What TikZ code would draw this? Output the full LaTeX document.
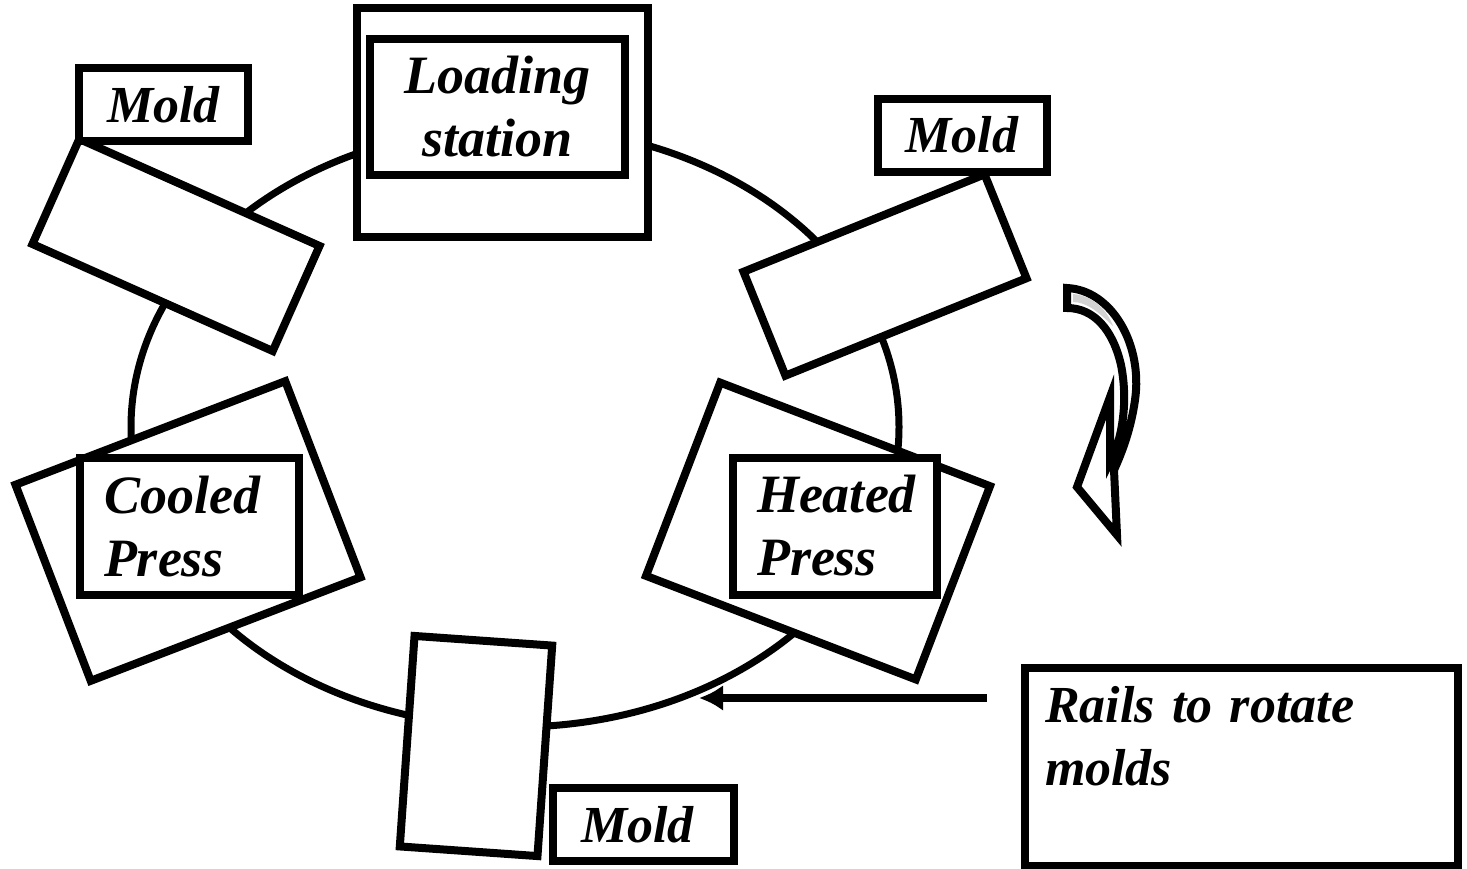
\documentclass[tikz,border=0pt]{standalone}
\usepackage{fontspec}
\setmainfont{Liberation Serif}
\usetikzlibrary{arrows.meta}

\begin{document}
\begin{tikzpicture}[x=1pt, y=-1pt, line width=8pt,
    every node/.style={font=\fontsize{52}{63}\selectfont\bfseries\itshape},
    box/.style={draw, fill=white, inner sep=0pt},
    moldlabel/.style={box, minimum width=169, minimum height=73},
    pressbox/.style={box, minimum height=137, inner xsep=24pt, align=left,
      font=\fontsize{54}{63}\selectfont\bfseries\itshape}]

		\useasboundingbox (0,0) rectangle (1467,868);

		% rails
		\draw[line width=7pt] (515,427) ellipse [x radius=384pt, y radius=300pt];

		\foreach \n/\x/\y/\w/\h/\r in {ul/176/245/263/115/-24, ur/885/275/260/112/22, hp/818/531/289/207/-21, cp/188/531/289/210/21, bt/476/746/138/211/-4} {
			\node (m\n) [box, minimum width=\w, minimum height=\h, rotate=\r] at (\x,\y) {};
		}

		\node (load) [box, minimum width=291, minimum height=229] at (502.5,122.5) {};
		\node (loadin) [box, minimum width=255, minimum height=136, align=center, font=\fontsize{54}{63}\selectfont\bfseries\itshape] at (497.5,107) {Loading\\station};
		\node (heat) [pressbox, minimum width=204, text width=156pt] at (835,526) {Heated\\Press};
		\node (cool) [pressbox, minimum width=219, text width=171pt] at (189.5,526.5) {Cooled\\Press};

		\node (mold1) [moldlabel] at (163.5,104.5) {Mold};
		\node (mold2) [moldlabel] at (962,135) {Mold};
		\node (mold3) [moldlabel, minimum width=181] at (643.5,824.5) {\hspace{-12pt}Mold};

		\node (rails) [box, minimum width=433, minimum height=198, text width=393pt, inner xsep=20pt, align=left] at (1241.5,767) {Rails to rotate\\molds\\\mbox{}};
		\coordinate (railtip) at (699,698);
		\draw[line width=8pt, -{Latex[length=24pt,width=26pt]}, shorten <=34pt] (rails.west |- railtip) -- (railtip);

		% turning direction
		\draw[line width=8pt, fill=white]
			(1067,288) .. controls (1112,290) and (1143,345) .. (1135,400)
			.. controls (1131,428) and (1123,450) .. (1114,470)
			-- (1117,535) -- (1077,487) -- (1110,397) -- (1110,462)
			.. controls (1123,438) and (1128,400) .. (1121,365)
			.. controls (1113,330) and (1094,308) .. (1067,308) -- cycle;
		\fill[gray!35] (1073,294) .. controls (1095,296) and (1108,312) .. (1113,326) .. controls (1100,314) and (1088,302) .. (1073,302) -- cycle;

\end{tikzpicture}
\end{document}
